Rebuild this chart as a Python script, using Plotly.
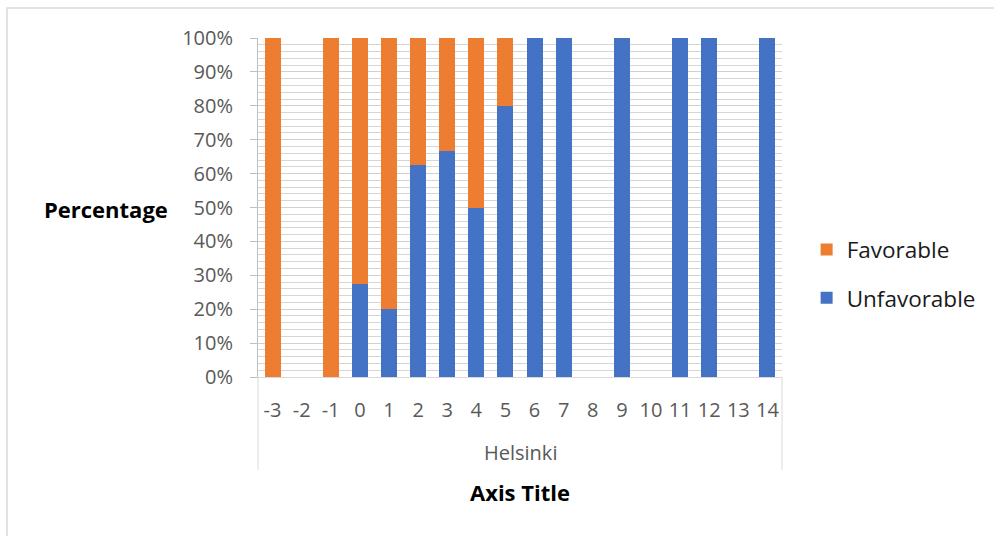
import plotly.graph_objects as go

categories = ["-3", "-2", "-1", "0", "1", "2", "3", "4", "5", "6", "7", "8", "9", "10", "11", "12", "13", "14"]
unfavorable = [0, None, 0, 27.3, 20, 62.5, 66.7, 50, 80, 100, 100, None, 100, None, 100, 100, None, 100]
favorable = [100, None, 100, 72.7, 80, 37.5, 33.3, 50, 20, 0, 0, None, 0, None, 0, 0, None, 0]
ytick_vals = list(range(0, 101, 10))
ytick_text = [f"{v}%" for v in ytick_vals]

FONT = "Open Sans"
GRAY = "#595959"

fig = go.Figure()
fig.add_trace(go.Bar(x=categories, y=unfavorable, name="Unfavorable",
                     marker=dict(color="#4472C4", line=dict(width=0)),
                     legendgroup="u", legendrank=2))
fig.add_trace(go.Bar(x=categories, y=favorable, name="Favorable",
                     marker=dict(color="#ED7D31", line=dict(width=0)),
                     legendgroup="f", legendrank=1))

fig.update_layout(
    width=994, height=536,
    margin=dict(l=258, r=212, t=38, b=159, autoexpand=False),
    paper_bgcolor="white", plot_bgcolor="white",
    barmode="stack", bargap=0.45,
    font=dict(family=FONT, color=GRAY, size=18),
    showlegend=True,
    legend=dict(x=1.047, y=0.304, xanchor="left", yanchor="middle",
                traceorder="grouped", tracegroupgap=16,
                font=dict(family=FONT, size=22.5, color="#1a1a1a"),
                bgcolor="rgba(0,0,0,0)"),
    xaxis=dict(type="category", categoryorder="array", categoryarray=categories,
               showgrid=False, showline=True, linecolor="#d9d9d9", linewidth=1,
               ticks="", ticklabelstandoff=15,
               tickfont=dict(family=FONT, size=20, color=GRAY)),
    yaxis=dict(range=[0, 100], tickvals=ytick_vals, ticktext=ytick_text,
               showgrid=True, gridcolor="#d0d0d0", gridwidth=1,
               showline=True, linecolor="#bfbfbf", linewidth=1,
               ticks="outside", ticklen=7, tickcolor="#bfbfbf",
               ticklabelstandoff=13, zeroline=False,
               minor=dict(dtick=2, showgrid=True, gridcolor="#d6d6d6", gridwidth=1,
                          ticks=""),
               tickfont=dict(family=FONT, size=20, color=GRAY)),
)

# category group dividers
for xv in (0, 1):
    fig.add_shape(type="line", xref="paper", yref="paper", x0=xv, x1=xv, y0=-0.274, y1=0,
                  line=dict(color="#d9d9d9", width=1))
# chart border
fig.add_shape(type="rect", xref="paper", yref="paper", x0=-0.479, x1=1.42, y0=-0.5, y1=1.0885,
              line=dict(color="#d9d9d9", width=1.5), layer="below")

fig.add_annotation(text="Helsinki", xref="paper", yref="paper", x=0.5, y=-0.224,
                   yanchor="middle", showarrow=False, font=dict(family=FONT, size=20, color=GRAY))
fig.add_annotation(text="<b>Axis Title</b>", xref="paper", yref="paper", x=0.5, y=-0.339,
                   yanchor="middle", showarrow=False, font=dict(family=FONT, size=22, color="#000000"))
fig.add_annotation(text="<b>Percentage</b>", xref="paper", yref="paper", x=-0.168, y=0.495,
                   xanchor="right", yanchor="middle", showarrow=False,
                   font=dict(family=FONT, size=22, color="#000000"))

fig.write_html("out.html")
